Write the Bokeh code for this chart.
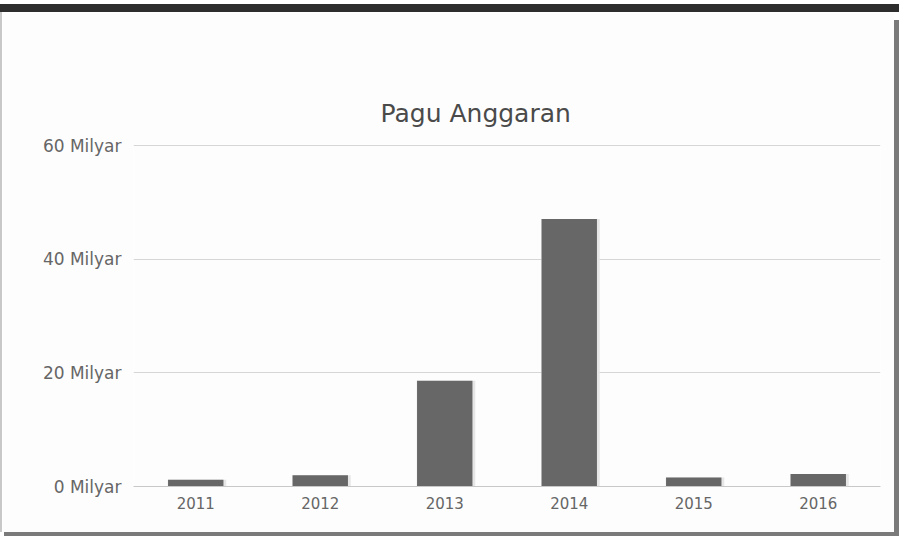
from bokeh.plotting import figure
from bokeh.models import Range1d, FixedTicker, PrintfTickFormatter, Div, ColumnDataSource
from bokeh.transform import dodge
from bokeh.layouts import column, row
from bokeh.embed import file_html
from bokeh.resources import INLINE

# Data (values in Milyar)
years = ["2011", "2012", "2013", "2014", "2015", "2016"]
pagu = [1.2, 2.0, 18.6, 47.1, 1.6, 2.2]
y_ticks = [0, 20, 40, 60]
title_text = "Pagu Anggaran"

FONT = "DejaVu Sans"

src = ColumnDataSource(data=dict(year=years, pagu=pagu))

p = figure(
    x_range=years,
    y_range=Range1d(0, 60.2),
    frame_width=747,
    frame_height=342,
    min_border_left=131,
    min_border_right=14,
    min_border_top=132,
    min_border_bottom=46,
    output_backend="svg",
    toolbar_location=None,
    background_fill_color="#fdfdfd",
    border_fill_color="#fdfdfd",
    outline_line_color=None,
)

p.title.text = title_text
p.title.align = "left"
p.title.offset = 247
p.title.text_font = FONT
p.title.text_font_size = "25px"
p.title.text_font_style = "normal"
p.title.text_color = "#4a4a4a"
p.title.standoff = 33

# shadow halo
p.vbar(x=dodge("year", 0.01, range=p.x_range), top="pagu", width=0.47, source=src,
       fill_color="#e6e6e6", line_color=None)
p.vbar(x="year", top="pagu", width=0.445, source=src,
       fill_color="#676767", line_color=None)

# y axis
p.yaxis.ticker = FixedTicker(ticks=y_ticks)
p.yaxis.formatter = PrintfTickFormatter(format="%d Milyar")
p.yaxis.axis_line_color = None
p.yaxis.major_tick_line_color = None
p.yaxis.minor_tick_line_color = None
p.yaxis.major_label_standoff = 6
p.yaxis.major_label_text_font = FONT
p.yaxis.major_label_text_font_size = "17px"
p.yaxis.major_label_text_color = "#666666"

# x axis
p.xaxis.axis_line_color = "#c8c8c8"
p.xaxis.major_tick_line_color = None
p.xaxis.minor_tick_line_color = None
p.xaxis.major_label_standoff = 4
p.xaxis.major_label_text_font = FONT
p.xaxis.major_label_text_font_size = "15px"
p.xaxis.major_label_text_color = "#666666"

p.xgrid.grid_line_color = None
p.ygrid.grid_line_color = "#d6d6d6"
p.ygrid.grid_line_width = 1

top_bar = Div(width=899, height=8, margin=(4, 0, 0, 0),
              styles={"background-color": "#2d2d2d"})
left_line = Div(width=2, height=520, margin=(0, 0, 0, 0),
                styles={"background-color": "#c8c8c8"})
right_bar = Div(width=5, height=512, margin=(8, 0, 0, 0),
                styles={"background-color": "#7a7a7a"})
bottom_bar = Div(width=895, height=4, margin=(0, 0, 0, 4),
                 styles={"background-color": "#7a7a7a"})

layout = column(top_bar, row(left_line, p, right_bar, spacing=0), bottom_bar, spacing=0)

open("out.html", "w").write(file_html(layout, INLINE))
